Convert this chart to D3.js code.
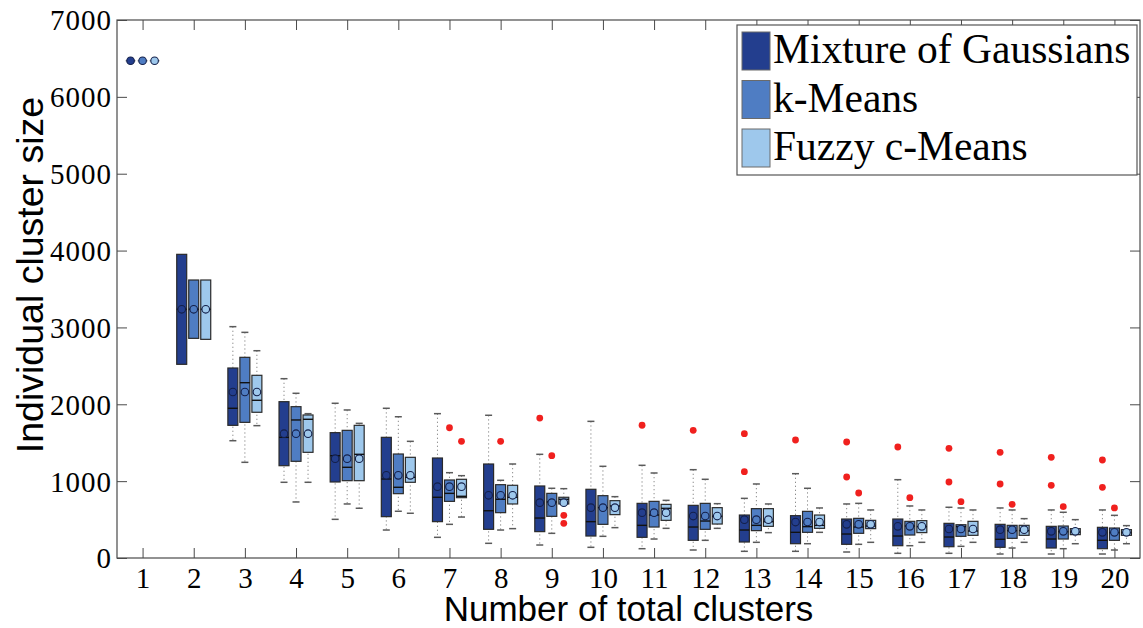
<!DOCTYPE html>
<html>
<head>
	<meta charset="utf-8">
	<title>Individual cluster size</title>
	<style>
		body { margin: 0; background: #fff; }
	</style>
</head>
<script src="https://d3js.org/d3.v7.min.js"></script>
<body>

<div id="viz"></div>

<script>

// Data
var clusters = [1,2,3,4,5,6,7,8,9,10,11,12,13,14,15,16,17,18,19,20];
var seriesNames = ["Mixture of Gaussians", "k-Means", "Fuzzy c-Means"];
var yTicks = [0,1000,2000,3000,4000,5000,6000,7000];

// mean cluster size (same for all methods)
var meanSize = [6470,3236,2160,1617,1292,1076,928,816,720,655,590,546,499,468,438,412,377,369,347,334];

// Mixture of Gaussians
var mogHi  = [6470,3951,3010,2333,2013,1948,1878,1857,1349,1778,1206,1149,776,1097,703,1019,660,651,625,625];
var mogQ3  = [6470,3951,2472,2034,1631,1570,1301,1223,937,894,711,685,559,551,507,507,451,438,412,399];
var mogMed = [6470,3236,1948,1570,1331,1028,790,615,520,473,425,403,364,334,312,286,273,243,247,230];
var mogQ1  = [6470,2520,1726,1201,989,538,473,373,343,286,269,230,208,186,178,160,147,139,130,121];
var mogLo  = [6470,2520,1526,985,503,364,269,191,169,139,121,104,87,87,78,61,61,52,52,52];
var mogOut = [[9,1821],[11,1727],[12,1661],[13,1617],[13,1123],[14,1535],[15,1509],[15,1054],[16,1444],
              [17,1427],[17,989],[18,1375],[18,963],[19,1310],[19,946],[20,1275],[20,920]];

// k-Means
var kmHi  = [6470,3617,2936,2143,1926,1838,1110,1011,907,1193,1106,1024,963,907,711,677,651,625,595,555];
var kmQ3  = [6470,3617,2611,1969,1661,1353,1015,954,841,811,737,711,642,607,516,477,433,425,416,390];
var kmMed = [6470,3236,2281,1796,1180,920,841,764,729,655,559,481,425,408,403,416,408,356,343,330];
var kmQ1  = [6470,2858,1765,1258,1006,837,737,590,542,438,403,373,356,334,321,299,282,256,247,230];
var kmLo  = [6470,2858,1245,729,703,608,438,364,321,282,247,230,204,186,178,160,152,130,121,104];
var kmOut = [[7,1695],[8,1518],[9,1331],[15,846],[16,785],[17,733],[18,698],[19,668],[20,651]];

// Fuzzy c-Means
var fcmHi  = [6470,3617,2697,1878,1752,1518,1071,1223,902,798,750,707,703,651,625,625,625,512,499,421];
var fcmQ3  = [6470,3617,2377,1861,1726,1310,1024,946,790,746,698,655,642,559,490,486,477,425,382,369];
var fcmMed = [6470,3236,2052,1805,1349,1050,803,790,764,677,646,542,473,425,416,408,351,356,338,330];
var fcmQ1  = [6470,2845,1896,1375,1006,985,785,703,703,564,490,442,412,386,382,330,295,295,304,295];
var fcmLo  = [6470,2845,1722,985,647,582,533,382,700,395,386,386,330,334,204,204,204,204,186,186];
var fcmOut = [[7,1518],[9,555],[9,451]];

var colors = ["#233e8e", "#4f7dc3", "#9ec8ec"];

// build table for drawing
var stats = [
	{hi: mogHi, q3: mogQ3, med: mogMed, q1: mogQ1, lo: mogLo, out: mogOut},
	{hi: kmHi,  q3: kmQ3,  med: kmMed,  q1: kmQ1,  lo: kmLo,  out: kmOut},
	{hi: fcmHi, q3: fcmQ3, med: fcmMed, q1: fcmQ1, lo: fcmLo, out: fcmOut}
];
var boxes = [], outliers = [];
stats.forEach(function(s, si) {
	clusters.forEach(function(c, i) {
		boxes.push({s: si, c: c, hi: s.hi[i], q3: s.q3[i], med: s.med[i], q1: s.q1[i], lo: s.lo[i], mean: meanSize[i]});
	});
	s.out.forEach(function(o) { outliers.push({s: si, c: o[0], v: o[1]}); });
});

var W = 1143, H = 628;
var plot = {left: 117, right: 1140, top: 20, bottom: 558};

var svg = d3.select("#viz").append("svg")
	.attr("width", W)
	.attr("height", H);

var x = d3.scaleLinear().domain([0.5, 20.5]).range([plot.left, plot.right]);
var y = d3.scaleLinear().domain([0, 7000]).range([plot.bottom, plot.top]);
var xSub = d3.scaleBand().domain([0,1,2]).range([-17, 17]).paddingInner(0.17);
var bw = xSub.bandwidth();

function cx(d) { return x(d.c) + xSub(d.s) + bw / 2; }

// axes with inward ticks
var serif = "Liberation Serif";
var sans = "Liberation Sans";

var gLeft = svg.append("g")
	.attr("transform", "translate(" + plot.left + ",0)")
	.call(d3.axisLeft(y).tickValues(yTicks).tickFormat(d3.format("d")).tickSizeInner(-10).tickSizeOuter(0).tickPadding(5));
var gBottom = svg.append("g")
	.attr("transform", "translate(0," + plot.bottom + ")")
	.call(d3.axisBottom(x).tickValues(clusters).tickFormat(d3.format("d")).tickSizeInner(-10).tickSizeOuter(0).tickPadding(9));
var gRight = svg.append("g")
	.attr("transform", "translate(" + plot.right + ",0)")
	.call(d3.axisRight(y).tickValues(yTicks).tickSizeInner(-10).tickSizeOuter(0).tickFormat(""));
var gTop = svg.append("g")
	.attr("transform", "translate(0," + plot.top + ")")
	.call(d3.axisTop(x).tickValues(clusters).tickSizeInner(-10).tickSizeOuter(0).tickFormat(""));

[gLeft, gBottom, gRight, gTop].forEach(function(g) {
	g.select(".domain").remove();
	g.selectAll("line").attr("stroke", "#4a4a4a");
});
gLeft.selectAll("text")
	.attr("font-family", serif).attr("font-size", 29).attr("fill", "#000")
	.attr("letter-spacing", 1).attr("dy", "0.34em");
gBottom.selectAll("text")
	.attr("font-family", serif).attr("font-size", 29).attr("fill", "#000");

svg.append("rect")
	.attr("x", plot.left).attr("y", plot.top)
	.attr("width", plot.right - plot.left).attr("height", plot.bottom - plot.top)
	.attr("fill", "none").attr("stroke", "#4a4a4a").attr("stroke-width", 1.2);

// box plots
var g = svg.append("g");
var bx = g.selectAll("g.box").data(boxes).enter().append("g").attr("class", "box");

bx.append("line")
	.attr("x1", cx).attr("x2", cx)
	.attr("y1", function(d) { return y(d.hi); })
	.attr("y2", function(d) { return y(d.lo); })
	.attr("stroke", "#8c8c8c").attr("stroke-width", 1)
	.attr("stroke-dasharray", "1.3,2.7");
bx.selectAll("line.cap")
	.data(function(d) { return d.hi > d.q3 || d.lo < d.q1 ? [{c: d.c, s: d.s, v: d.hi}, {c: d.c, s: d.s, v: d.lo}] : []; })
	.enter().append("line").attr("class", "cap")
	.attr("x1", function(d) { return cx(d) - 3.5; })
	.attr("x2", function(d) { return cx(d) + 3.5; })
	.attr("y1", function(d) { return y(d.v); })
	.attr("y2", function(d) { return y(d.v); })
	.attr("stroke", "#5a5a5a").attr("stroke-width", 1.5);

bx.append("rect")
	.attr("x", function(d) { return cx(d) - bw / 2; })
	.attr("width", bw)
	.attr("y", function(d) { return y(d.q3); })
	.attr("height", function(d) { return y(d.q1) - y(d.q3); })
	.attr("fill", function(d) { return colors[d.s]; })
	.attr("stroke", function(d) { return d.q3 === d.q1 ? "#9a9a9a" : "#2a2a2a"; })
	.attr("stroke-width", 1.2);

bx.append("line")
	.attr("x1", function(d) { return cx(d) - bw / 2; })
	.attr("x2", function(d) { return cx(d) + bw / 2; })
	.attr("y1", function(d) { return y(d.med); })
	.attr("y2", function(d) { return y(d.med); })
	.attr("stroke", function(d) { return d.q3 === d.q1 ? "#9a9a9a" : "#111"; })
	.attr("stroke-width", 1.4);

bx.append("circle")
	.attr("cx", cx)
	.attr("cy", function(d) { return y(d.mean); })
	.attr("r", 3.8)
	.attr("fill", function(d) { return colors[d.s]; })
	.attr("stroke", "#14204a").attr("stroke-width", 1.1);

g.selectAll("circle.out").data(outliers).enter().append("circle")
	.attr("class", "out")
	.attr("cx", cx)
	.attr("cy", function(d) { return y(d.v); })
	.attr("r", 3.4)
	.attr("fill", "#f0201e");

// axis titles
svg.append("text")
	.attr("x", (plot.left + plot.right) / 2).attr("y", 621)
	.attr("text-anchor", "middle")
	.attr("font-family", sans).attr("font-size", 35)
	.text("Number of total clusters");
svg.append("text")
	.attr("transform", "translate(43,275) rotate(-90)")
	.attr("text-anchor", "middle")
	.attr("font-family", sans).attr("font-size", 37.5)
	.text("Individual cluster size");

// legend
var leg = svg.append("g");
leg.append("rect")
	.attr("x", 737).attr("y", 25).attr("width", 400).attr("height", 150)
	.attr("fill", "#fff").attr("stroke", "#555").attr("stroke-width", 1.2);
var li = leg.selectAll("g.item").data(seriesNames).enter().append("g")
	.attr("transform", function(d, i) { return "translate(742," + (32 + i * 48.5) + ")"; });
li.append("rect")
	.attr("width", 28).attr("height", 38)
	.attr("fill", function(d, i) { return colors[i]; })
	.attr("stroke", "#6a6a6a").attr("stroke-width", 1);
li.append("text")
	.attr("x", 31).attr("y", 31)
	.attr("font-family", serif).attr("font-size", 41.5)
	.text(function(d) { return d; });

</script>

</body>
</html>
